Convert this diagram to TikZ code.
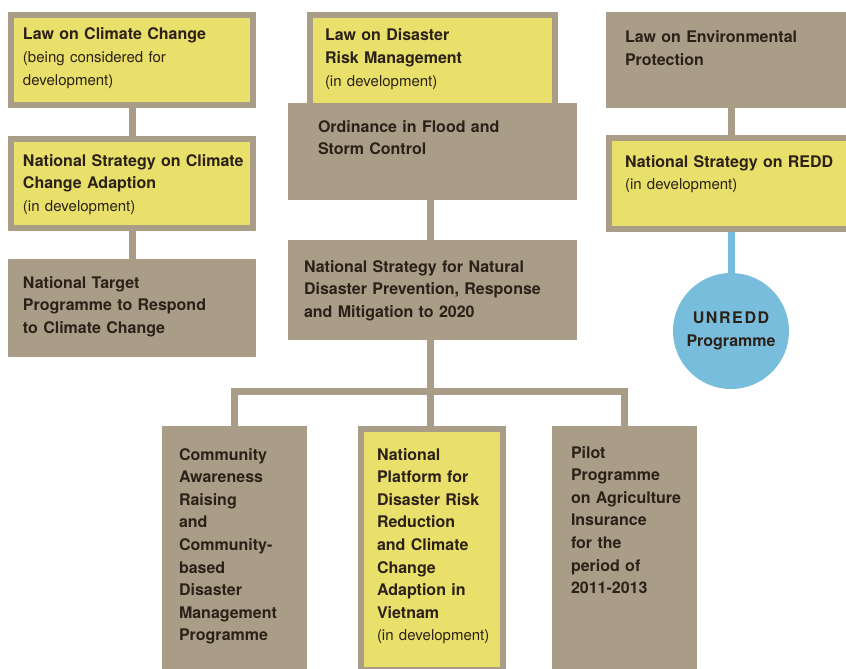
\documentclass[tikz,border=0pt]{standalone}
\usepackage{fontspec}
\setmainfont{TeX Gyre Heros}
\usetikzlibrary{backgrounds}
\definecolor{taupe}{HTML}{A99D88}
\definecolor{ylw}{HTML}{E8E06A}
\definecolor{skyb}{HTML}{79BDDD}
\definecolor{ink}{HTML}{2B2118}
\newcommand\ttlfont{\fontsize{16}{22.6}\selectfont\bfseries}
\newcommand\sbtfont{\fontsize{15}{22.6}\selectfont\mdseries}
\tikzset{
  tpbox/.style={rectangle, fill=taupe, draw=none, inner sep=0pt, outer sep=0pt, anchor=north west},
  ylbox/.style={rectangle, fill=ylw, draw=taupe, line width=6pt, inner sep=0pt, outer sep=0pt, anchor=north west},
  lbl/.style={anchor=base west, inner sep=0pt, outer sep=0pt, text width=320pt, align=left, text=ink, font=\ttlfont},
  conn/.style={draw=taupe, line width=7pt, line join=miter},
  bconn/.style={draw=skyb, line width=7pt},
}
\begin{document}
\begin{tikzpicture}[x=1pt,y=-1pt]
\useasboundingbox (0,0) rectangle (846,669);
\clip (0,0) rectangle (846,669);
% boxes
\node[ylbox, minimum width=242pt, minimum height=90pt] (lcc) at (11,15) {};
\node[ylbox, minimum width=242pt, minimum height=89pt] (nsca) at (11,139) {};
\node[tpbox, minimum width=248pt, minimum height=98pt] (ntp) at (8,259) {};
\node[ylbox, minimum width=245pt, minimum height=91pt] (ldrm) at (310,15) {};
\node[tpbox, minimum width=289pt, minimum height=97pt] (ord) at (288,103) {};
\node[tpbox, minimum width=289pt, minimum height=100pt] (nsnd) at (288,240) {};
\node[tpbox, minimum width=250pt, minimum height=96pt] (lep) at (606,12) {};
\node[ylbox, minimum width=250pt, minimum height=91pt] (redd) at (609,138) {};
\node[circle, fill=skyb, inner sep=0pt, outer sep=0pt, minimum size=116pt, align=center, text=ink,
      font={\fontsize{16}{23.5}\selectfont\bfseries}] (unredd) at (731,331)
      {{\addfontfeatures{LetterSpace=10}UNREDD}\\Programme};
\node[tpbox, minimum width=145pt, minimum height=250pt] (cab) at (162,426) {};
\node[ylbox, minimum width=142pt, minimum height=241pt] (nptf) at (361,429) {};
\node[tpbox, minimum width=145pt, minimum height=250pt] (pilot) at (552,426) {};
% connectors
\coordinate (bar) at (430,391.5);
\begin{scope}[on background layer]
  \draw[conn] (lcc.south) -- (nsca.north);
  \draw[conn] (nsca.south) -- (ntp.north);
  \draw[conn] ([xshift=-2.5pt]ord.south) -- ([xshift=-2.5pt]nsnd.north);
  \draw[conn] ([xshift=-2.5pt]nsnd.south) -- (bar);
  \draw[conn] (cab.north) -- (cab.north |- bar) -- (pilot.north |- bar) -- (pilot.north);
  \draw[conn] (bar) -- ([xshift=-2pt]nptf.north);
  \draw[conn] (lep.south) -- (lep.south |- redd.north);
  \draw[bconn] (lep.south |- redd.south) -- (unredd.north);
\end{scope}
% labels
\node[lbl] (tlcc) at (23,40) {Law on Climate Change\\{\sbtfont (being considered for}\\{\sbtfont development)}};
\node[lbl] (tnsca) at (23,166) {National Strategy on Climate\\Change Adaption\\{\sbtfont (in development)}};
\node[lbl] (tntp) at (23,288) {National Target\\Programme to Respond\\to Climate Change};
\node[lbl] (tldrm) at (325,41) {Law on Disaster\\Risk Management\\{\sbtfont (in development)}};
\node[lbl] (tord) at (318,132) {Ordinance in Flood and\\Storm Control};
\node[lbl] (tnsnd) at (304,272) {National Strategy for Natural\\Disaster Prevention, Response\\and Mitigation to 2020};
\node[lbl] (tlep) at (625,43) {Law on Environmental\\Protection};
\node[lbl] (tredd) at (625,167) {National Strategy on REDD\\{\sbtfont (in development)}};
\node[lbl] (tcab) at (179,460) {Community\\Awareness\\Raising\\and\\Community-\\based\\Disaster\\Management\\Programme};
\node[lbl] (tnptf) at (377,460) {National\\Platform for\\Disaster Risk\\Reduction\\and Climate\\Change\\Adaption in\\Vietnam\\{\sbtfont (in development)}};
\node[lbl] (tpilot) at (571,458) {Pilot\\Programme\\on Agriculture\\Insurance\\for the\\period of\\2011-2013};
\end{tikzpicture}
\end{document}
